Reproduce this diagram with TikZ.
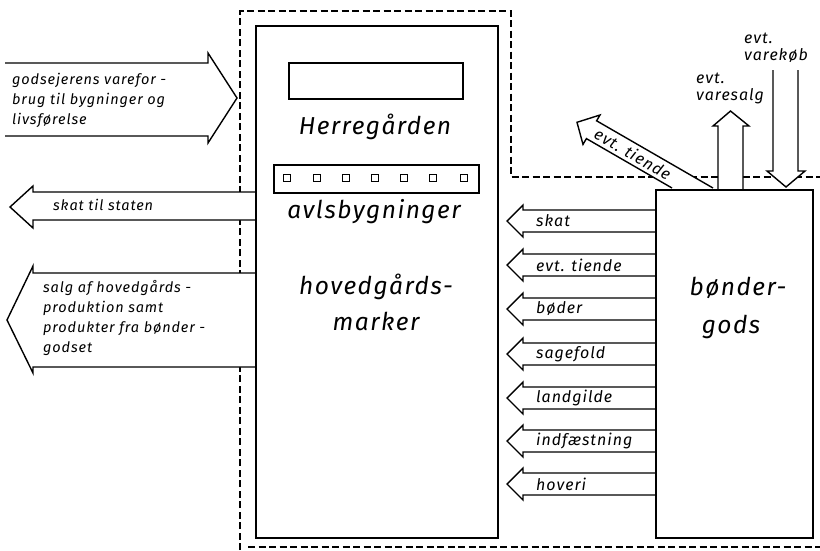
\documentclass[tikz,border=0pt]{standalone}
\usepackage{fontspec}
\setmainfont{Fira Sans}[LetterSpace=6]
\usetikzlibrary{calc}
\begin{document}
\begin{tikzpicture}[x=1pt,y=-1pt,
  box/.style={draw, line width=1.8pt, inner sep=0pt, anchor=north west},
  arr/.style={draw, fill=white, line width=1.4pt, line join=miter},
  dsh/.style={draw, line width=1.3pt, dash pattern=on 7pt off 3.5pt},
  lbl/.style={font=\fontsize{14.5}{20}\selectfont\itshape, inner sep=0pt, anchor=west, align=left},
  rlbl/.style={font=\fontsize{16}{17}\selectfont\itshape, inner sep=0pt, anchor=west, align=left},
  big/.style={font=\fontsize{24.5}{26}\selectfont\itshape, inner sep=0pt},
  win/.style={draw, line width=0.8pt, minimum size=7pt, inner sep=0pt}]
\useasboundingbox (0,0) rectangle (820,550);
% dashed boundary
\draw[dsh] (240,550) -- (240,11) -- (511,11) -- (511,177) -- (820,177);
\draw[dsh] (248,547) -- (820,547);
% arrows on the left
\draw[arr] (5,63) -- (208,63) -- (208,53) -- (237,98) -- (208,143) -- (208,136) -- (5,136);
\draw[arr] (255,192) -- (33,192) -- (33,186) -- (10,207) -- (33,228) -- (33,220) -- (255,220);
\draw[arr] (255,273) -- (33,273) -- (33,266) -- (7,320) -- (33,373) -- (33,367) -- (255,367);
% arrows between the estates
\foreach \c in {221,265,309,354,398,441,484}
  \draw[arr] (655,\c-11) -- (523,\c-11) -- (523,\c-16) -- (507,\c) -- (523,\c+16) -- (523,\c+11) -- (655,\c+11);
% arrows above bondergods
\draw[arr] (713,188) -- (596.6,120.8) -- (600,115) -- (577,122.3) -- (583,144.4) -- (586.4,138.6) -- (672,188);
\draw[arr] (718,189) -- (718,126) -- (713,126) -- (730.5,111) -- (749,126) -- (743,126) -- (743,189);
\draw[arr] (773,70) -- (773,171) -- (767,171) -- (786,187) -- (805,171) -- (798,171) -- (798,70);
% boxes
\node[box, minimum width=242pt, minimum height=512pt] (herre) at (255,25) {};
\node[box, minimum width=174pt, minimum height=36pt] (skilt) at (288,62) {};
\node[box, minimum width=205pt, minimum height=28pt] (avl) at (273,164) {};
\foreach \x [count=\i] in {287,317,346,375,404,433,464}
  \node[win] (w\i) at (\x,178) {};
\node[box, minimum width=157pt, minimum height=348pt] (bonder) at (655,189) {};
% texts
\node[big] (therre) at (375,127) {Herregården};
\node[big] (tavl) at (374,212) {avlsbygninger};
\node[big] (thov) at (376,287) {hovedgårds-};
\node[big] (tmark) at (376,321) {marker};
\node[big] (tbond) at (738,288) {bønder-};
\node[big] (tgods) at (731,327) {gods};
\node[lbl] (tgodsej) at (12,100) {godsejerens varefor -\\brug til bygninger og\\livsførelse};
\node[lbl] (tskat) at (53,205) {skat til staten};
\node[lbl] (tsalg) at (43,318) {salg af hovedgårds -\\produktion samt\\produkter fra bønder -\\godset};
\foreach \c/\t [count=\i] in {221/skat,265/evt. tiende,309/bøder,354/sagefold,398/landgilde,441/indfæstning,484/hoveri}
  \node[rlbl] (ta\i) at (536,\c) {\t};
\node[rlbl, anchor=center, rotate=-30] (tdiag) at (633,154) {evt. tiende};
\node[rlbl] (tsalgv) at (696,88) {evt.\\varesalg};
\node[rlbl] (tkob) at (744,48) {evt.\\varekøb};
\end{tikzpicture}
\end{document}
